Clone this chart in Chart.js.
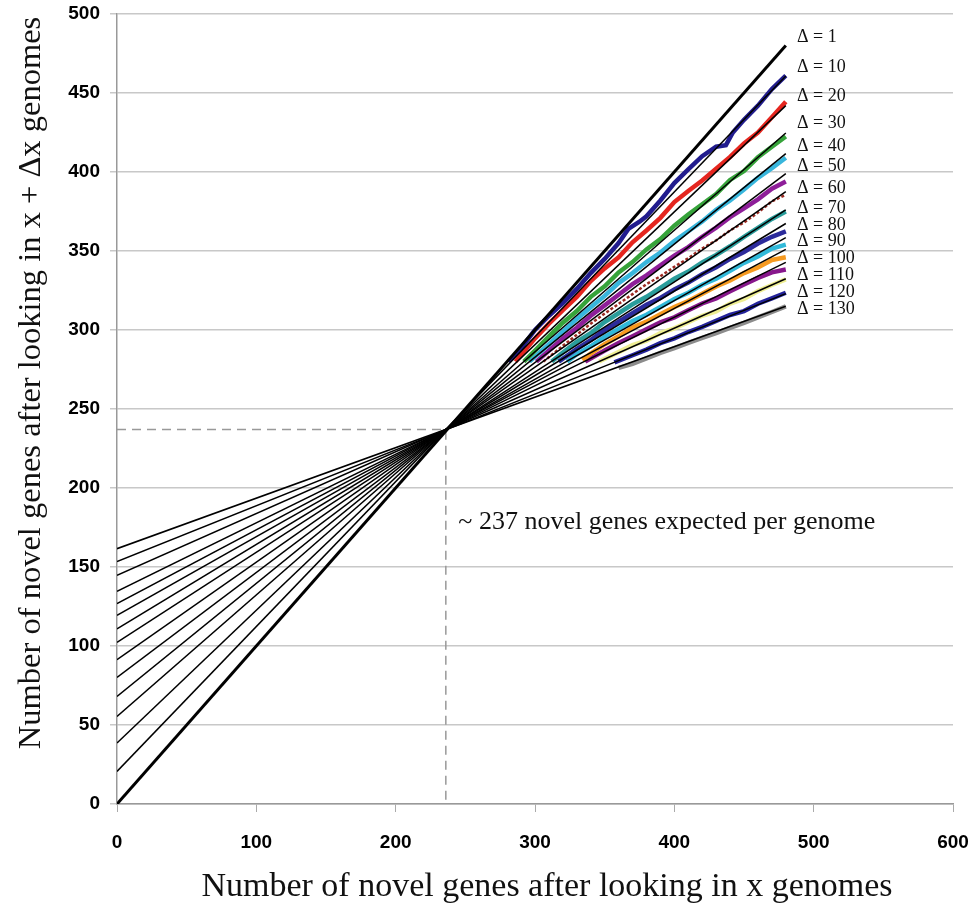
<!DOCTYPE html>
<html>
<head>
<meta charset="utf-8">
<script src="https://cdn.jsdelivr.net/npm/chart.js@4.4.1/dist/chart.umd.min.js"></script>
<style>
  html, body { margin: 0; padding: 0; background: #fff; }
  #wrap { width: 977px; height: 911px; }
</style>
</head>
<body>
<div id="wrap"><canvas id="chart" width="977" height="911"></canvas></div>
<script>
// ── Data ────────────────────────────────────────────────────────
const xTicks = [0, 100, 200, 300, 400, 500, 600];
const yTicks = [0, 50, 100, 150, 200, 250, 300, 350, 400, 450, 500];

// straight fitted lines: value at x = 0 and at x = 480
const fitX = [0, 480];
const fitStart = [0, 20.6, 38.6, 55.4, 68.1, 80.1, 91.3, 102.3, 110.8, 119.4, 126.8, 134.6, 144.7, 153.5, 161.6];
const fitEnd = [480, 460.7, 442, 424.7, 411.6, 399, 387.6, 376, 367.4, 358.5, 351, 342.8, 332.4, 323, 315];

// observed series [x, y]
const obs1 = [[281,280],[290,288.5],[300,300],[310,309],[320,317],[330,326],[340,336],[350,345],[360,355],[367,364],[375,368.5],[380,372],[390,382],[400,393],[410,401.6],[420,410],[430,416],[437,417],[442,425],[450,433],[460,442],[470,452.5],[480,461]];
const obs2 = [[286,280],[300,294.7],[310,304],[320,312.5],[330,321],[340,331],[350,339],[360,346],[370,355.5],[380,363],[390,371],[400,381],[410,388],[420,394.6],[430,402],[440,409.5],[450,418],[460,425],[470,434.6],[480,444.5]];
const obs3 = [[292,280],[300,287],[310,296],[320,304.6],[330,312],[340,321],[350,327.7],[360,336.4],[370,343],[380,351],[390,357.5],[400,366],[410,373],[420,379.5],[430,386],[440,395],[450,400.6],[460,409.3],[470,416],[480,422.5]];
const obs4 = [[296,280],[310,291],[320,299],[330,307],[340,314.4],[350,321.6],[360,329.7],[370,336],[380,343],[390,349],[400,356.3],[410,362.5],[420,368.7],[430,376],[440,382],[450,389],[460,396.3],[470,402.4],[480,409]];
const obs5 = [[301,280],[310,287],[320,294.7],[330,301.4],[340,309],[350,315.6],[360,322.3],[370,329],[380,334.6],[390,341],[400,347],[410,352.5],[420,359],[430,364.8],[440,371.4],[450,377],[460,382.7],[470,389.4],[480,394]];
const obs6 = [[306,280],[320,290],[330,297],[340,304],[350,310.4],[360,316.5],[370,322.7],[380,329],[390,334],[400,340],[410,345.4],[420,351.6],[430,356.7],[440,363],[450,368],[460,374.3],[470,381.4],[480,385.6]];
const obs7 = [[312,280],[320,285.8],[330,292.5],[340,298],[350,305],[360,310.6],[370,316.3],[380,321],[390,326.7],[400,332.4],[410,337],[420,342.8],[430,347.5],[440,353],[450,359],[460,364.6],[470,370.3],[480,375]];
const obs8 = [[317,280],[330,288],[340,293.6],[350,300],[360,305.3],[370,310.6],[380,316],[390,320.3],[400,325.6],[410,330],[420,335.3],[430,339.7],[440,345],[450,349.4],[460,354.7],[470,359],[480,362.4]];
const obs9 = [[323,280],[330,284.7],[340,289.7],[350,295.7],[360,300.7],[370,305.7],[380,309.6],[390,314.6],[400,319.6],[410,323.6],[420,328.6],[430,332.5],[440,337.5],[450,342.5],[460,346.5],[470,351.5],[480,354]];
const obs10 = [[334,281],[340,285],[350,291],[360,296],[370,301.6],[380,305.3],[390,310],[400,314.6],[410,318.3],[420,323],[430,327.6],[440,331.3],[450,336],[460,339.6],[470,344.3],[480,346]];
const obs11 = [[336,280],[350,287],[360,291.8],[370,296],[380,300.4],[390,304.8],[400,308],[410,312.5],[420,316.8],[430,320],[440,324.5],[450,328.8],[460,333],[470,336.5],[480,338.3]];
const obs12 = [[346,280],[360,286],[370,290.4],[380,293.3],[390,298],[400,301],[410,305],[420,309],[430,311.8],[440,316.7],[450,319.7],[460,324.6],[470,328.5],[480,332]];
const obs13 = [[357,279.5],[370,284],[380,287.6],[390,291.7],[400,294.7],[410,298.7],[420,302],[430,305.8],[440,309.5],[450,312],[460,316.6],[470,320],[480,323.6]];
const obs14 = [[360,276],[370,278.5],[380,282],[390,285.5],[400,288.5],[410,291.8],[420,295],[430,298],[440,301.4],[450,304.5],[460,308],[470,311.4],[480,315]];

const crossX = 236;
const crossY = 237;

const deltaLabels = ['\u0394 = 1', '\u0394 = 10', '\u0394 = 20', '\u0394 = 30', '\u0394 = 40', '\u0394 = 50', '\u0394 = 60',
    '\u0394 = 70', '\u0394 = 80', '\u0394 = 90', '\u0394 = 100', '\u0394 = 110', '\u0394 = 120', '\u0394 = 130'];
const deltaLabelY = [485, 466, 447.7, 431, 416, 403.4, 390, 376.8, 366, 356, 345.5, 334.8, 324, 313];
const noteText = '~ 237 novel genes expected per genome';
const xTitle = 'Number of novel genes after looking in x genomes';
const yTitle = 'Number of novel genes after looking in x + \u0394x genomes';

// ── Styling ─────────────────────────────────────────────────────
const obsColors = ['#211c8e', '#e5261f', '#36a33a', '#38b6dc', '#8e1e99', '#9b2a22', '#2a9d9b',
    '#2c2b9b', '#31b9d9', '#f69a20', '#87178b', '#eeee92', '#23229b', '#8c8c8c'];
const observed = [obs1, obs2, obs3, obs4, obs5, obs6, obs7, obs8, obs9, obs10, obs11, obs12, obs13, obs14];

const datasets = [];

observed.forEach((s, i) => {
    datasets.push({
        data: s.map((p) => ({ x: p[0], y: p[1] })),
        borderColor: obsColors[i],
        borderWidth: i === 5 ? 2.5 : 4.5,
        borderDash: i === 5 ? [3, 2] : [],
        pointRadius: 0,
        order: 2,
    });
});

fitStart.forEach((a, i) => {
    datasets.push({
        data: [{ x: fitX[0], y: a }, { x: fitX[1], y: fitEnd[i] }],
        borderColor: '#000',
        borderWidth: i === 0 ? 3 : 1.5,
        pointRadius: 0,
        order: 1,
    });
});

datasets.push({
    data: [{ x: 0, y: crossY }, { x: crossX, y: crossY }, { x: crossX, y: 0 }],
    borderColor: '#999',
    borderWidth: 1.5,
    borderDash: [9, 6],
    pointRadius: 0,
    order: 3,
});

const annotate = {
    id: 'annotate',
    afterDatasetsDraw(chart) {
        const { ctx, scales: { x, y } } = chart;
        ctx.save();
        ctx.fillStyle = '#111';
        ctx.textBaseline = 'middle';
        ctx.font = '18px "Liberation Serif"';
        deltaLabels.forEach((t, i) => {
            ctx.fillText(t, x.getPixelForValue(488), y.getPixelForValue(deltaLabelY[i]));
        });
        ctx.font = '26px "Liberation Serif"';
        ctx.fillText(noteText, x.getPixelForValue(245), y.getPixelForValue(178.6));

        // axis titles sit a bit off the axis centres in the figure
        ctx.textAlign = 'center';
        ctx.font = '34px "Liberation Serif"';
        ctx.fillText(xTitle, 547, 887);
        ctx.translate(31, y.getPixelForValue(266.5));
        ctx.rotate(-Math.PI / 2);
        ctx.font = '32.5px "Liberation Serif"';
        ctx.fillText(yTitle, 0, 0);
        ctx.restore();
    },
};

new Chart(document.getElementById('chart'), {
    type: 'line',
    data: { datasets },
    plugins: [annotate],
    options: {
        responsive: false,
        animation: false,
        parsing: false,
        layout: { padding: { top: 14, right: 24, left: 0, bottom: 0 } },
        plugins: { legend: { display: false }, tooltip: { enabled: false } },
        scales: {
            x: {
                type: 'linear',
                min: 0,
                max: 600,
                afterBuildTicks: (s) => { s.ticks = xTicks.map((v) => ({ value: v })); },
                afterFit: (s) => { s.height = 107; s.paddingLeft = 0; s.paddingRight = 0; },
                grid: { drawOnChartArea: false, drawTicks: true, tickLength: 8, color: '#aaa' },
                border: { color: '#999', width: 1.5 },
                ticks: { color: '#000', padding: 19, font: { family: 'Liberation Sans', size: 19, weight: 'bold' } },
                title: { display: false },
            },
            y: {
                type: 'linear',
                min: 0,
                max: 500,
                afterBuildTicks: (s) => { s.ticks = yTicks.map((v) => ({ value: v })); },
                afterFit: (s) => { s.width = 117; s.paddingTop = 0; s.paddingBottom = 0; },
                grid: { color: '#c8c8c8', lineWidth: 1.5, tickLength: 7 },
                border: { color: '#999', width: 1.5 },
                ticks: { color: '#000', padding: 10, font: { family: 'Liberation Sans', size: 19, weight: 'bold' } },
                title: { display: false },
            },
        },
    },
});
</script>
</body>
</html>
